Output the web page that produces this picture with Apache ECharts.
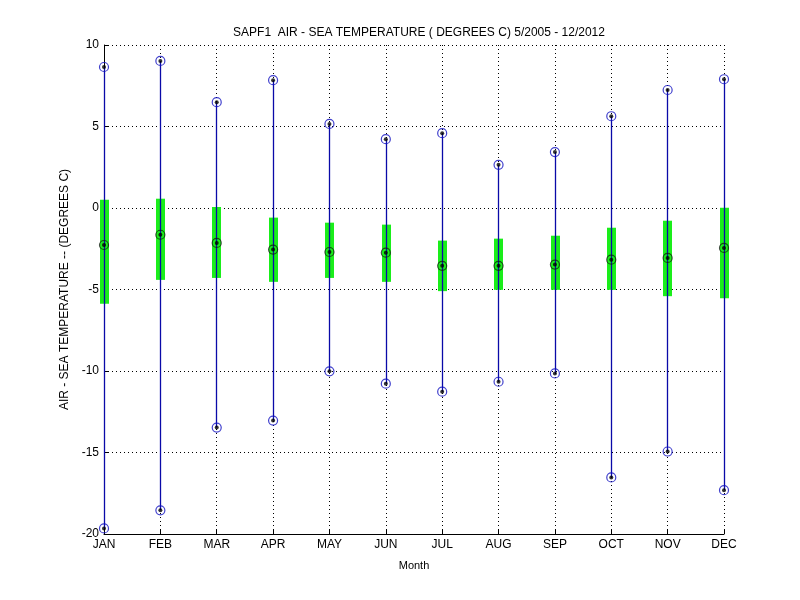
<!DOCTYPE html>
<html lang="en">
<head>
    <meta charset="UTF-8">
    <title>SAPF1 air - sea temperature</title>
    <script src="https://cdn.jsdelivr.net/npm/echarts@6/dist/echarts.min.js"></script>
    <style>
        html, body { margin: 0; padding: 0; background: #fff; }
        #main { width: 800px; height: 600px; }
    </style>
</head>
<body>
    <div id="main"></div>
    <script>
        var months = ['JAN', 'FEB', 'MAR', 'APR', 'MAY', 'JUN', 'JUL', 'AUG', 'SEP', 'OCT', 'NOV', 'DEC'];
        var maxVals = [8.65, 9.02, 6.49, 7.84, 5.16, 4.22, 4.59, 2.65, 3.43, 5.63, 7.24, 7.90];
        var minVals = [-19.66, -18.55, -13.47, -13.04, -10.02, -10.78, -11.27, -10.66, -10.15, -16.53, -14.94, -17.31];
        var upperQ = [0.51, 0.57, 0.06, -0.59, -0.90, -1.02, -2.00, -1.88, -1.70, -1.21, -0.78, 0.02];
        var lowerQ = [-5.88, -4.41, -4.29, -4.53, -4.29, -4.53, -5.10, -5.02, -5.02, -5.02, -5.41, -5.53];
        var medians = [-2.27, -1.64, -2.14, -2.55, -2.70, -2.74, -3.55, -3.55, -3.47, -3.17, -3.06, -2.45];

        var font = 'Liberation Sans, Arial, sans-serif';

        // month index runs 1..12 on a value axis so JAN/DEC sit on the edges
        function pairs(vals) {
            return vals.map(function (v, i) { return [i + 1, v]; });
        }
        // snap an x position the same way the dotted grid lines are snapped,
        // so the blue whisker covers the grid line underneath
        function snapX(x) {
            var d = Math.round(x * 2);
            return d % 2 === 1 ? d / 2 : (d + 1) / 2;
        }
        var rangeData = months.map(function (m, i) { return [i + 1, maxVals[i], minVals[i]]; });
        var boxData = months.map(function (m, i) { return [i + 1, upperQ[i], lowerQ[i]]; });
        var extremes = pairs(maxVals).concat(pairs(minVals));

        var myChart = echarts.init(document.getElementById('main'));
        var option = {
            animation: false,
            backgroundColor: '#fff',
            title: {
                text: 'SAPF1  AIR - SEA TEMPERATURE ( DEGREES C) 5/2005 - 12/2012',
                left: 414,
                textAlign: 'center',
                top: 22,
                textStyle: { fontSize: 12, fontWeight: 'normal', color: '#000', fontFamily: font }
            },
            grid: { left: 104, right: 76, top: 45, bottom: 66 },
            xAxis: {
                type: 'value',
                min: 1,
                max: 12,
                interval: 1,
                name: 'Month',
                nameLocation: 'middle',
                nameGap: 26,
                nameTextStyle: { fontSize: 11, color: '#000', fontFamily: font },
                axisLine: { onZero: false, lineStyle: { color: '#000', width: 1 } },
                axisTick: { inside: true, length: 5, lineStyle: { color: '#000' } },
                axisLabel: {
                    color: '#000', fontSize: 12, fontFamily: font, margin: 5,
                    formatter: function (v) { return months[v - 1] || ''; }
                },
                splitLine: { show: true, lineStyle: { color: '#000', type: [1, 3], width: 1 } }
            },
            yAxis: {
                type: 'value',
                min: -20,
                max: 10,
                interval: 5,
                name: 'AIR - SEA TEMPERATURE -- (DEGREES C)',
                nameLocation: 'middle',
                nameRotate: 90,
                nameGap: 29,
                nameTextStyle: { fontSize: 12, color: '#000', fontFamily: font },
                axisLine: { show: true, onZero: false, lineStyle: { color: '#000', width: 1 } },
                axisTick: { show: true, inside: true, length: 5, lineStyle: { color: '#000' } },
                axisLabel: { color: '#000', fontSize: 12, fontFamily: font, margin: 5 },
                splitLine: { show: true, lineStyle: { color: '#000', type: [1, 3], width: 1 } }
            },
            series: [
                {
                    // interquartile bars
                    type: 'custom',
                    data: boxData,
                    renderItem: function (params, api) {
                        var top = api.coord([api.value(0), api.value(1)]);
                        var bot = api.coord([api.value(0), api.value(2)]);
                        var cx = snapX(top[0]);
                        return {
                            type: 'rect',
                            shape: { x: cx - 4.5, y: top[1], width: 9, height: bot[1] - top[1] },
                            style: { fill: '#1aee1a' }
                        };
                    },
                    z: 2
                },
                {
                    // min - max lines
                    type: 'custom',
                    data: rangeData,
                    renderItem: function (params, api) {
                        var top = api.coord([api.value(0), api.value(1)]);
                        var bot = api.coord([api.value(0), api.value(2)]);
                        var cx = snapX(top[0]);
                        return {
                            type: 'line',
                            shape: { x1: cx, y1: top[1], x2: cx, y2: bot[1] },
                            style: { stroke: '#0a0aa8', lineWidth: 1.3 }
                        };
                    },
                    z: 3
                },
                {
                    type: 'scatter',
                    data: extremes,
                    symbol: 'circle',
                    symbolSize: 9,
                    itemStyle: { color: 'rgba(0,0,0,0)', borderColor: '#1010c0', borderWidth: 1.2 },
                    z: 4
                },
                {
                    type: 'scatter',
                    data: pairs(medians),
                    symbol: 'circle',
                    symbolSize: 9,
                    itemStyle: { color: 'rgba(0,0,0,0)', borderColor: '#112211', borderWidth: 1.2 },
                    z: 4
                },
                {
                    type: 'scatter',
                    data: extremes.concat(pairs(medians)),
                    symbol: 'circle',
                    symbolSize: 4,
                    itemStyle: { color: '#000' },
                    z: 5
                }
            ]
        };
        myChart.setOption(option);
    </script>
</body>
</html>
